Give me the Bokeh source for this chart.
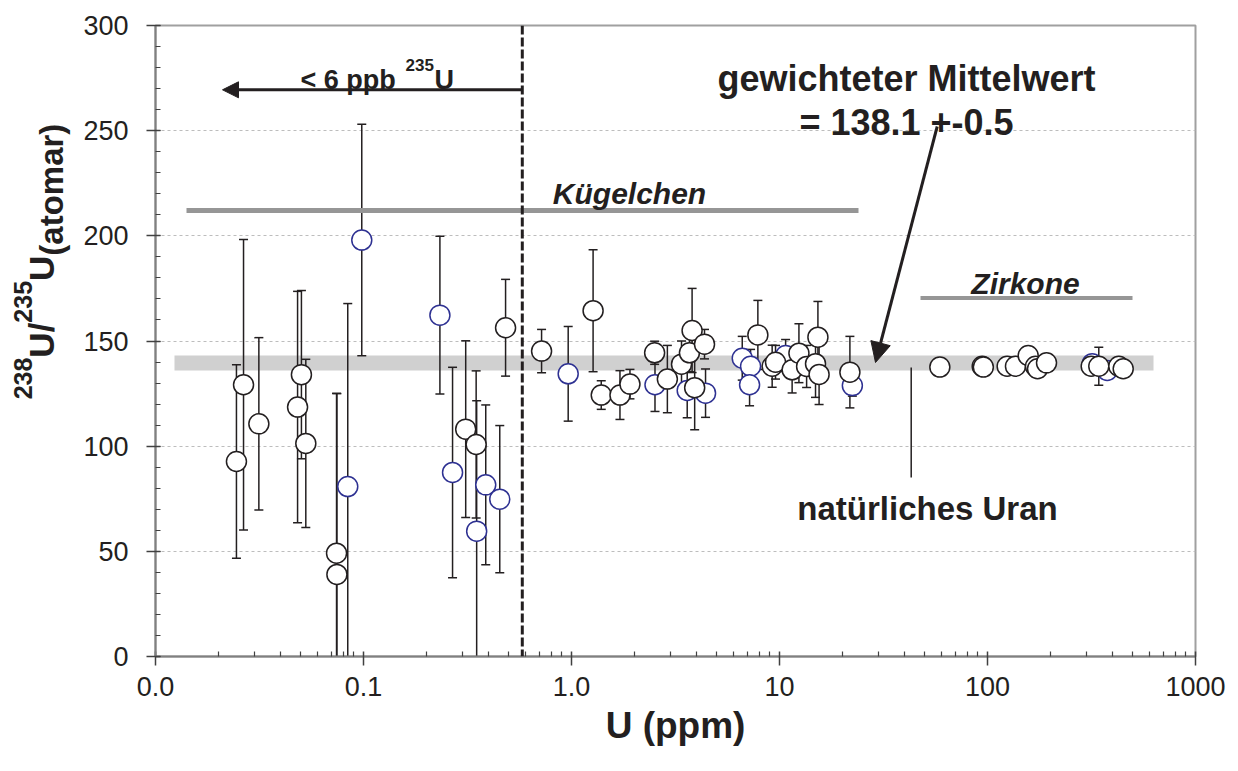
import numpy as np
from bokeh.plotting import figure
from bokeh.layouts import row
from bokeh.core.properties import value
from bokeh.models import (ColumnDataSource, Whisker, TeeHead, FixedTicker,
                          CustomJSTickFormatter, Label, Arrow, NormalHead, Span)
from bokeh.embed import file_html
from bokeh.resources import INLINE

# ---------------- data (U in ppm, 238U/235U ratio, 1-sigma error) ----------------
u_black = [0.0245, 0.0265, 0.0314, 0.0482, 0.0503, 0.0528, 0.0742, 0.0745,
           0.310, 0.348, 0.482, 0.718, 1.27, 1.39, 1.71, 1.91, 2.51, 2.89,
           3.38, 3.69, 3.80, 4.36, 3.91, 7.87, 9.22, 9.57, 11.5, 12.4, 13.5,
           14.9, 15.3, 15.5, 21.8,
           59.0, 94.3, 95.5, 124.3, 136.3, 156.9, 170.1, 174.0, 192.2,
           315.2, 342.8, 427.9, 449.2]
r_black = [92.7, 129.2, 110.6, 118.6, 134.0, 101.3, 49.1, 39.0,
           108.1, 100.8, 156.3, 145.2, 164.4, 124.3, 124.3, 129.5, 144.4, 131.9,
           139.0, 144.4, 155.0, 148.5, 127.8, 152.9, 138.0, 139.9, 136.3, 144.2, 137.9,
           139.2, 151.8, 134.1, 135.2,
           137.6, 138.0, 137.6, 138.0, 138.0, 143.1, 138.0, 136.8, 139.6,
           138.0, 138.0, 138.0, 136.8]
e_black = [46.0, 69.0, 41.0, 55.0, 40.0, 40.0, 76.0, 86.0,
           42.0, 35.0, 23.0, 10.3, 29.0, 6.8, 11.6, 7.0, 5.5, 16.0,
           11.0, 9.0, 20.0, 7.0, 20.0, 16.4, 10.0, 8.0, 11.0, 14.0, 10.0,
           16.0, 17.0, 14.3, 17.0,
           3.0, 3.0, 3.0, 3.0, 3.0, 3.0, 3.0, 3.0, 3.0,
           3.0, 9.0, 3.0, 3.0]

u_blue = [0.0840, 0.0981, 0.233, 0.268, 0.350, 0.387, 0.452, 0.964, 2.52,
          3.60, 4.41, 6.62, 7.26, 7.18, 10.7, 22.4, 318.7, 376.3]
r_blue = [80.8, 198.0, 162.3, 87.5, 59.6, 81.6, 74.8, 134.4, 129.2,
          126.5, 125.2, 141.8, 138.0, 129.2, 143.1, 128.8, 139.2, 136.0]
e_blue = [87.0, 55.0, 37.5, 50.0, 62.0, 38.0, 35.0, 22.5, 12.7,
          13.0, 11.5, 10.4, 8.0, 10.0, 7.6, 5.0, 3.0, 3.0]

x_ticks = [0.01, 0.1, 1, 10, 100, 1000]
x_tick_labels = ["0.0", "0.1", "1.0", "10", "100", "1000"]
y_ticks = [0, 50, 100, 150, 200, 250, 300]

# ---------------- layout helpers ----------------
W, H = 1238, 771
LEFT_W = 72                       # narrow panel holding the y-axis title
FRAME_L, FRAME_R, FRAME_T, FRAME_B = 155, 1195, 25, 656
X0, X1, Y0, Y1 = 0.01, 1000.0, 0.0, 300.0


def px2x(px):
    return 10 ** (np.log10(X0) + (px - FRAME_L) / (FRAME_R - FRAME_L)
                  * (np.log10(X1) - np.log10(X0)))


def py2y(py):
    return Y0 + (FRAME_B - py) / (FRAME_B - FRAME_T) * (Y1 - Y0)


INK = "#231f20"
FONT = "Liberation Sans"

p = figure(width=W - LEFT_W, height=H, x_axis_type="log",
           x_range=(X0, X1), y_range=(Y0, Y1),
           output_backend="svg", toolbar_location=None,
           min_border_left=FRAME_L - LEFT_W, min_border_right=W - FRAME_R,
           min_border_top=FRAME_T, min_border_bottom=H - FRAME_B)
p.background_fill_color = "white"
p.border_fill_color = "white"
p.outline_line_color = "#a0a0a0"
p.outline_line_width = 2

# grid
p.xgrid.visible = False
p.ygrid.ticker = FixedTicker(ticks=y_ticks[1:-1])
p.ygrid.grid_line_color = "#bdbdbd"
p.ygrid.grid_line_dash = "3 3"
p.ygrid.grid_line_width = 1

# x axis
minor_x = [k * 10.0 ** d for d in range(-2, 3) for k in range(2, 10)]
p.xaxis.ticker = FixedTicker(ticks=x_ticks, minor_ticks=minor_x)
p.xaxis.formatter = CustomJSTickFormatter(
    args=dict(tvals=x_ticks, tlabels=x_tick_labels),
    code="""
    for (let i = 0; i < tvals.length; i++) {
        if (Math.abs(Math.log10(tvals[i]) - Math.log10(tick)) < 1e-6) return tlabels[i];
    }
    return "";
    """)
p.xaxis.axis_label = "U (ppm)"
p.xaxis.axis_label_text_font = FONT
p.xaxis.axis_label_text_font_size = "37px"
p.xaxis.axis_label_text_font_style = "bold"
p.xaxis.axis_label_text_color = INK
p.xaxis.axis_label_standoff = 6

# y axis
p.yaxis.ticker = FixedTicker(ticks=y_ticks, minor_ticks=list(range(0, 301, 10)))

for ax in (p.xaxis[0], p.yaxis[0]):
    ax.axis_line_color = "#808080"
    ax.axis_line_width = 2
    ax.major_tick_line_color = "#404040"
    ax.major_tick_line_width = 1.5
    ax.minor_tick_line_color = "#404040"
    ax.minor_tick_line_width = 1.2
    ax.major_tick_out = 9
    ax.major_tick_in = 5
    ax.minor_tick_in = 5
    ax.minor_tick_out = 0
    ax.major_label_text_font = FONT
    ax.major_label_text_font_size = "27px"
    ax.major_label_text_color = INK
p.xaxis.major_label_standoff = 11
p.yaxis.major_label_standoff = 18

# natural uranium band (weighted mean)
p.quad(left=px2x(174), right=px2x(1153), bottom=py2y(370), top=py2y(355),
       fill_color="#d0d0d0", line_color=None, level="image")

# group bars
p.segment(x0=px2x(186), y0=py2y(210), x1=px2x(858), y1=py2y(210),
          line_color="#969696", line_width=5)
p.segment(x0=px2x(920), y0=py2y(297.5), x1=px2x(1132), y1=py2y(297.5),
          line_color="#969696", line_width=4)

# pointer line to "natürliches Uran"
p.segment(x0=px2x(910.7), y0=py2y(367), x1=px2x(910.7), y1=py2y(477),
          line_color=INK, line_width=1.5)

# error bars
for us, rs, es in ((u_blue, r_blue, e_blue), (u_black, r_black, e_black)):
    src = ColumnDataSource(dict(x=us,
                                lower=[r - e for r, e in zip(rs, es)],
                                upper=[r + e for r, e in zip(rs, es)]))
    w = Whisker(source=src, base="x", lower="lower", upper="upper",
                dimension="height", line_color=INK, line_width=1.5,
                upper_head=TeeHead(size=9, line_color=INK, line_width=1.5),
                lower_head=TeeHead(size=9, line_color=INK, line_width=1.5))
    p.add_layout(w)

# points
p.scatter(u_blue, r_blue, marker="circle", size=20, fill_color="white",
          line_color="#2e3192", line_width=1.5)
p.scatter(u_black, r_black, marker="circle", size=20, fill_color="white",
          line_color=INK, line_width=1.5)

# 6 ppb limit
p.add_layout(Span(location=0.58, dimension="height", line_color=INK,
                  line_width=3, line_dash="9 3"))
p.add_layout(Arrow(x_start=0.58, y_start=py2y(89.3), x_end=px2x(222),
                   y_end=py2y(89.3), line_color=INK, line_width=3,
                   end=NormalHead(size=16, fill_color=INK, line_color=INK)))

# weighted mean arrow
p.add_layout(Arrow(x_start=px2x(936.7), y_start=py2y(126), x_end=px2x(875),
                   y_end=py2y(362), line_color=INK, line_width=3,
                   end=NormalHead(size=20, fill_color=INK, line_color=INK)))


def lab(px, py, text, size, align="left", style="bold"):
    p.add_layout(Label(x=px2x(px), y=py2y(py), text=text, text_font=FONT,
                       text_font_size=f"{size}px", text_font_style=style,
                       text_color=INK, text_align=align,
                       text_baseline="alphabetic"))


lab(300, 79.3, "< 6 ppb", 27)
lab(405, 64, "235", 17)
lab(434, 79.3, "U", 27)

lab(906, 78.3, "gewichteter Mittelwert", 36, align="center")
lab(906, 121.7, "= 138.1 +-0.5", 36, align="center")
lab(629, 193.3, "Kügelchen", 30, align="center", style="bold italic")
lab(1025, 283.3, "Zirkone", 30, align="center", style="bold italic")
lab(927, 508.3, "natürliches Uran", 33, align="center")

# ---------------- left panel: rotated y-axis title ----------------
# the row aligns this panel's frame with the main frame, so share its y scale
q = figure(width=LEFT_W, height=H, x_range=(0, LEFT_W), y_range=p.y_range,
           output_backend="svg", toolbar_location=None,
           x_axis_location=None, y_axis_location=None,
           min_border_left=0, min_border_right=0, min_border_top=FRAME_T,
           min_border_bottom=H - FRAME_B)
q.grid.visible = False
q.outline_line_color = None
q.background_fill_color = "white"
q.border_fill_color = "white"

# (text, font size, screen x of the baseline)
pieces = [("238", 25, 31), ("U", 35, 54), ("/", 35, 54), ("235", 25, 31),
          ("U", 35, 54), ("(atomar)", 33, 63)]
widths = {"238": 3 * 0.556, "235": 3 * 0.556, "U": 0.722, "/": 0.278,
          "(atomar)": 4.0}
total = sum(widths[t] * s for t, s, _ in pieces)
pos = 261 + total / 2
for t, s, bx in pieces:
    wpx = widths[t] * s
    cx = bx - 0.36 * s          # middle of the glyph body
    cy = pos - wpx / 2          # middle along the text direction
    q.text(x=[cx], y=[py2y(cy)], text=[t], angle=np.pi / 2,
           text_font=value(FONT), text_font_size=f"{s}px",
           text_font_style="bold", text_color=INK,
           text_align="center", text_baseline="middle")
    pos -= wpx

layout = row(q, p, spacing=0)
open("out.html", "w").write(file_html(layout, INLINE))
